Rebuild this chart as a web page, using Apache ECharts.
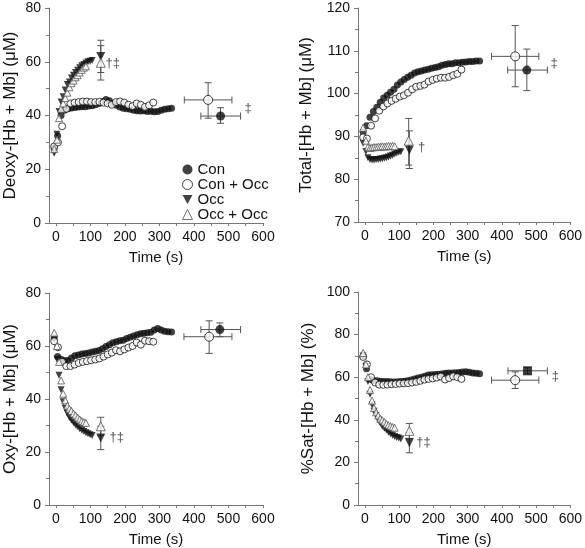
<!DOCTYPE html>
<html><head><meta charset="utf-8">
<script src="https://cdn.jsdelivr.net/npm/echarts@6/dist/echarts.min.js"></script>
<style>html,body{margin:0;padding:0;background:#fff}#c{width:585px;height:548px}</style>
</head><body><div id="c"></div>
<script>
// ---- time bases (s) ----
const conTime = [-5,5,15,25,35,45,55,65,75,85,95,105,115,125,135,145,155,165,175,185,195,205,215,225,235,245,255,265,275,285,295,305,315,325,335];
const conOccTime = [-5,6,18,30,42,54,66,78,90,102,114,126,138,150,162,174,186,198,210,222,234,246,258,270,282];
const occTime = [-5,3,9,15,21,27,33,39,45,51,57,63,69,75,81,87,93,99,105];
const occOccTime = [-5,3,9,15,21,27,33,39,45,51,57,63,69,75,81,87];

// ---- Deoxy-[Hb + Mb] ----
const deoxyCon = [28,32.5,40,42,42.5,42.8,43,43.2,43.3,43.3,43.5,43.6,44,44.5,45.2,46,45.5,44.5,43.8,43.2,42.7,42.5,42.3,42,41.8,41.7,41.8,41.5,41.6,41.4,41.5,42,42.3,42.5,42.7];
const deoxyConOcc = [28.5,30,36,42.5,44.5,44.8,45,45.2,45.2,45,45,45.1,44.8,44.5,44,45,45.2,44.8,44,43.5,44.5,44,43.2,43.8,44.8];
const deoxyOcc = [26,33,41.5,45,47,49.5,51.5,52.5,54,55,56,56.8,57.8,58.5,59,59.5,60,60.2,60.5];
const deoxyOccOcc = [27.5,31,39,42.5,44.5,46.5,48.5,50.5,52,53,54.2,55,56,57,57.8,58.3];

// ---- Total-[Hb + Mb] ----
const totalCon = [91,92.5,94.5,95.8,96.8,98,99,99.6,100.3,101,102,102.7,103.3,103.8,104.3,104.8,105.1,105.3,105.5,105.7,105.9,106.1,106.3,106.6,106.8,107,107,107.2,107.2,107.3,107.4,107.5,107.5,107.6,107.6];
const totalConOcc = [89.8,89.5,92.5,94.2,96,97,97.7,98.3,98.8,99.3,99.6,100.2,101,101.6,101.8,102.1,102.8,103.2,103.5,103.7,103.7,103.9,104.3,104.6,105.6];
const totalOcc = [88.4,86.5,85,84.6,84.5,84.5,84.6,84.6,84.7,84.8,84.9,85,85.2,85.4,85.6,85.9,86.1,86.3,86.4];
const totalOccOcc = [92,89,87.5,87.3,87.4,87.5,87.5,87.6,87.6,87.7,87.6,87.7,87.8,87.7,87.8,87.7];

// ---- Oxy-[Hb + Mb] ----
const oxyCon = [63,56,55,54.5,54.5,55.5,56.3,56.6,57,57.2,57.4,57.7,58,58.3,59,59.8,60.5,61.2,61.6,62,62.2,62.8,63.3,63.8,64.2,64.6,64.8,65,65.2,66,66.6,66,65.6,65.4,65.3];
const oxyConOcc = [61.8,59.5,54,52.4,52.4,53,53.6,54,54.3,54.6,54.9,55.3,56,56.8,57.5,58.4,58,58.7,59.4,60,61.3,60.5,62,61.8,61.6];
const oxyOcc = [62.5,55,49,43.5,39,36.5,34.5,33,32,31,30.2,29.5,28.8,28.2,27.7,27.3,26.9,26.5,26.2];
const oxyOccOcc = [65,60,54,47,42,39.5,37.5,36.3,35.5,34.5,33.8,33,32.3,31.7,31.3,31];

// ---- %Sat-[Hb + Mb] ----
const satCon = [70,64,59,58.5,58.3,58.1,58,58,57.9,57.8,57.9,58,58.1,58.3,58.7,59.2,59.6,60,60.5,61,61.2,61.3,61.4,61.5,61.8,62,62,62.1,62.2,62.4,62.6,62.3,62,61.8,61.6];
const satConOcc = [69.5,66,60,57.5,56.5,56.4,56.5,56.7,56.8,57,57.1,57.2,57.5,57.8,58.3,58.9,59.2,59.4,59.8,60.3,58.9,59.6,60.4,60,59.2];
const satOcc = [70,65,58,52,47,44,42,40,38.5,37,36,35.2,34.2,33.5,32.8,32.2,31.7,31.4,31];
const satOccOcc = [71.4,66,60,54,49,45.5,43.5,42,40.5,39.8,39,38,37.5,37,36.6,36.3];

// ---- end-point means with error: [time, value, timeLow, timeHigh, valueLow, valueHigh] ----
const deoxyEndOcc = [130,62,130,130,56,68];
const deoxyEndOccOcc = [130,59.6,130,130,53.2,66];
const deoxyEndConOcc = [441,45.8,372,510,39,52.2];
const deoxyEndCon = [477,39.8,420,535,37.1,42.9];
const totalEndOcc = [130,86.8,130,130,82.5,91.3];
const totalEndOccOcc = [128,89,128,128,83.3,94.2];
const totalEndConOcc = [439,108.7,370,508,101.6,115.9];
const totalEndCon = [473,105.5,417,533,100.7,110.4];
const oxyEndOcc = [130,25.3,130,130,20.9,29.7];
const oxyEndOccOcc = [130,29.7,130,130,26.3,33.1];
const oxyEndConOcc = [444,63.5,371,510,57.2,69.5];
const oxyEndCon = [475,66.2,420,535,63.5,68.7];
const satEndOcc = [130,29.2,130,130,24.5,33.9];
const satEndOccOcc = [130,34.8,130,130,31.3,38.3];
const satEndConOcc = [439,58.6,370,508,54.7,62.5];
const satEndCon = [475,63,418,533,61.5,64.5];

// ---- significance marks: [time, value, text] ----
const deoxyMarks = [[165,59.5,'†‡'],[557,42.7,'‡']];
const totalMarks = [[166,87.4,'†'],[553,107,'‡']];
const oxyMarks = [[176,25.5,'†‡']];
const satMarks = [[171,29.2,'†‡'],[556,60.5,'‡']];

// ---- axes ----
const xTicks = [0,50,100,150,200,250,300,350,400,450,500,550,600];
const xLabels = [0,100,200,300,400,500,600];
const yTitles = ['Deoxy-[Hb + Mb] (μM)','Total-[Hb + Mb] (μM)','Oxy-[Hb + Mb] (μM)','%Sat-[Hb + Mb] (%)'];
const yRanges = [[0,80,20],[70,120,10],[0,80,20],[0,100,20]];
const xTitle = 'Time (s)';
const seriesNames = ['Con','Con + Occ','Occ','Occ + Occ'];

const FONT = 'Liberation Sans, Arial, sans-serif';
const TXT = '#111';
const AX = '#777';

const grids = [
  {left:49, top:8, width:214, height:215},
  {left:358, top:8, width:215, height:214},
  {left:49, top:293, width:214, height:213},
  {left:358, top:292, width:215, height:213}
];
const nameGaps = [30, 43, 30, 41];

const panels = [
  {con:deoxyCon, conOcc:deoxyConOcc, occ:deoxyOcc, occOcc:deoxyOccOcc, ends:[deoxyEndOcc,deoxyEndOccOcc,deoxyEndConOcc,deoxyEndCon], marks:deoxyMarks},
  {con:totalCon, conOcc:totalConOcc, occ:totalOcc, occOcc:totalOccOcc, ends:[totalEndOcc,totalEndOccOcc,totalEndConOcc,totalEndCon], marks:totalMarks},
  {con:oxyCon, conOcc:oxyConOcc, occ:oxyOcc, occOcc:oxyOccOcc, ends:[oxyEndOcc,oxyEndOccOcc,oxyEndConOcc,oxyEndCon], marks:oxyMarks},
  {con:satCon, conOcc:satConOcc, occ:satOcc, occOcc:satOccOcc, ends:[satEndOcc,satEndOccOcc,satEndConOcc,satEndCon], marks:satMarks}
];

const zip = (t, v) => t.map((x, i) => [x, v[i]]);

const styleFilled = {color:'#111'};
const styleOpenC = {color:'#fff', borderColor:'#111', borderWidth:1};
const styleOpenT = {color:'#fff', borderColor:'#555', borderWidth:1};

function renderErr(params, api) {
  const x = api.value(0), y = api.value(1);
  const xl = api.value(2), xh = api.value(3), yl = api.value(4), yh = api.value(5);
  const c = api.coord([x, y]);
  const a = api.coord([x, yl]), b = api.coord([x, yh]);
  const l = api.coord([xl, y]), r = api.coord([xh, y]);
  const cap = 3.5;
  const st = {stroke:'#555', lineWidth:1};
  const ch = [
    {type:'line', shape:{x1:c[0], y1:a[1], x2:c[0], y2:b[1]}, style:st},
    {type:'line', shape:{x1:c[0]-cap, y1:a[1], x2:c[0]+cap, y2:a[1]}, style:st},
    {type:'line', shape:{x1:c[0]-cap, y1:b[1], x2:c[0]+cap, y2:b[1]}, style:st}
  ];
  if (xh > xl) {
    ch.push({type:'line', shape:{x1:l[0], y1:c[1], x2:r[0], y2:c[1]}, style:st});
    ch.push({type:'line', shape:{x1:l[0], y1:c[1]-cap, x2:l[0], y2:c[1]+cap}, style:st});
    ch.push({type:'line', shape:{x1:r[0], y1:c[1]-cap, x2:r[0], y2:c[1]+cap}, style:st});
  }
  return {type:'group', children:ch};
}

const xAxis = [], yAxis = [], series = [];
panels.forEach((p, i) => {
  xAxis.push({
    type:'value', gridIndex:i, min:-20, max:600,
    name:xTitle, nameLocation:'middle', nameGap:27,
    nameTextStyle:{fontFamily:FONT, fontSize:15, color:TXT},
    axisLine:{show:true, onZero:false, lineStyle:{color:AX, width:1}},
    axisTick:{show:true, customValues:xTicks, length:3, lineStyle:{color:AX}},
    axisLabel:{customValues:xLabels, fontFamily:FONT, fontSize:14, color:TXT, margin:7},
    splitLine:{show:false}
  });
  const yr = yRanges[i];
  yAxis.push({
    type:'value', gridIndex:i, min:yr[0], max:yr[1], interval:yr[2],
    name:yTitles[i], nameLocation:'middle', nameGap:nameGaps[i],
    nameTextStyle:{fontFamily:FONT, fontSize:17, color:TXT},
    axisLine:{show:true, onZero:false, lineStyle:{color:AX, width:1}},
    axisTick:{show:true, length:4, lineStyle:{color:AX}},
    minorTick:{show:true, splitNumber:2, length:3, lineStyle:{color:AX}},
    axisLabel:{fontFamily:FONT, fontSize:14, color:TXT, margin:8},
    splitLine:{show:false}
  });
  const sc = (name, data, symbol, rot, size, style, z) => ({
    type:'scatter', name, xAxisIndex:i, yAxisIndex:i, data, symbol, symbolRotate:rot,
    symbolSize:size, itemStyle:style, z, silent:true
  });
  series.push(sc(seriesNames[0], zip(conTime, p.con), 'circle', 0, 7, styleFilled, 2));
  series.push(sc(seriesNames[1], zip(conOccTime, p.conOcc), 'circle', 0, 7, styleOpenC, 3));
  series.push(sc(seriesNames[2], zip(occTime, p.occ), 'triangle', 180, 7, styleFilled, 2));
  series.push(sc(seriesNames[3], zip(occOccTime, p.occOcc), 'triangle', 0, 7, styleOpenT, 3));
  series.push({
    type:'custom', xAxisIndex:i, yAxisIndex:i, renderItem:renderErr, silent:true,
    encode:{x:0, y:1}, data:p.ends, z:4
  });
  const e = p.ends;
  series.push(sc(seriesNames[2], [e[0].slice(0,2)], 'triangle', 180, 9, styleFilled, 5));
  series.push(sc(seriesNames[3], [e[1].slice(0,2)], 'triangle', 0, 9, styleOpenT, 6));
  series.push(sc(seriesNames[1], [e[2].slice(0,2)], 'circle', 0, 9, styleOpenC, 5));
  series.push(sc(seriesNames[0], [e[3].slice(0,2)], i === 3 ? 'rect' : 'circle', 0, 9, styleFilled, 5));
  series.push({
    type:'scatter', xAxisIndex:i, yAxisIndex:i, symbolSize:0, silent:true, z:7,
    data:p.marks.map(m => ({value:[m[0], m[1]], label:{show:true, formatter:m[2]}})),
    label:{position:'inside', fontFamily:FONT, fontSize:13, color:'#222'}
  });
});

const chart = echarts.init(document.getElementById('c'), null, {renderer:'canvas'});
chart.setOption({
  animation:false,
  backgroundColor:'#fff',
  grid:grids,
  xAxis, yAxis, series,
  legend:{
    show:true, orient:'vertical', left:177, top:157,
    itemWidth:10, itemHeight:10, itemGap:0,
    textStyle:{fontFamily:FONT, fontSize:15, color:TXT, lineHeight:14},
    selectedMode:false,
    data:[
      {name:seriesNames[0], icon:'circle', itemStyle:{color:'#111', borderWidth:0}},
      {name:seriesNames[1], icon:'circle', itemStyle:{color:'#fff', borderColor:'#111', borderWidth:1}},
      {name:seriesNames[2], icon:'path://M0,0L10,0L5,9Z', itemStyle:{color:'#111', borderWidth:0}},
      {name:seriesNames[3], icon:'triangle', itemStyle:{color:'#fff', borderColor:'#555', borderWidth:1}}
    ]
  }
});
</script></body></html>
